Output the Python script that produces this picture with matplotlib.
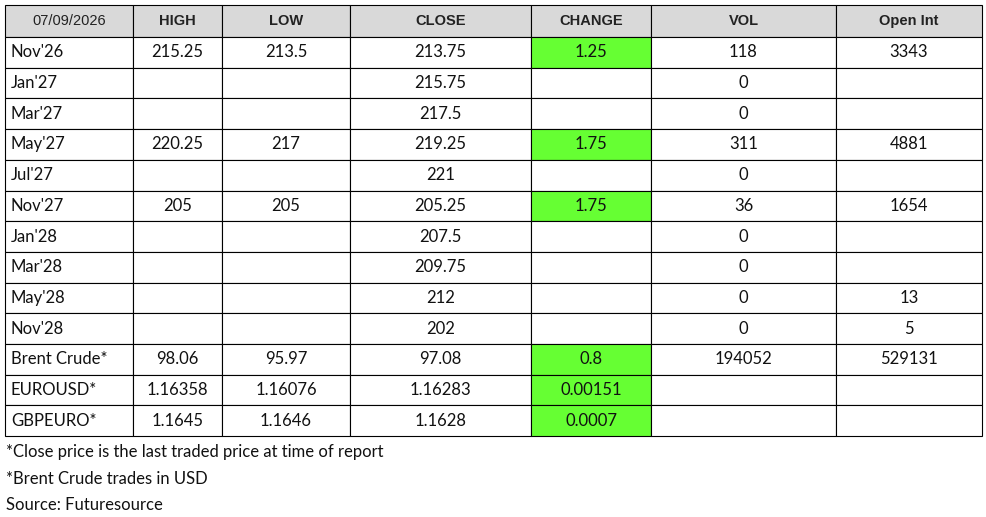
import matplotlib.pyplot as plt
from matplotlib.patches import Rectangle

date_label = "07/09/2026"
columns = ["HIGH", "LOW", "CLOSE", "CHANGE", "VOL", "Open Int"]
contracts = ["Nov'26", "Jan'27", "Mar'27", "May'27", "Jul'27", "Nov'27", "Jan'28",
             "Mar'28", "May'28", "Nov'28", "Brent Crude*", "EUROUSD*", "GBPEURO*"]
high = ["215.25", "", "", "220.25", "", "205", "", "", "", "", "98.06", "1.16358", "1.1645"]
low = ["213.5", "", "", "217", "", "205", "", "", "", "", "95.97", "1.16076", "1.1646"]
close = ["213.75", "215.75", "217.5", "219.25", "221", "205.25", "207.5", "209.75",
         "212", "202", "97.08", "1.16283", "1.1628"]
change = ["1.25", "", "", "1.75", "", "1.75", "", "", "", "", "0.8", "0.00151", "0.0007"]
vol = ["118", "0", "0", "311", "0", "36", "0", "0", "0", "0", "194052", "", ""]
open_int = ["3343", "", "", "4881", "", "1654", "", "", "13", "5", "529131", "", ""]
notes = ["*Close price is the last traded price at time of report",
         "*Brent Crude trades in USD",
         "Source: Futuresource"]

edges = [5, 133, 222, 350, 531, 651, 836, 982]
top, head_h, row_h = 5, 32, 30.7
body_font = "Lato"
head_font = "Liberation Sans"

fig = plt.figure(figsize=(9.86, 5.17), dpi=100)
ax = fig.add_axes([0, 0, 1, 1])
ax.set_xlim(0, 986)
ax.set_ylim(517, 0)
ax.axis("off")

# header
for i in range(7):
    x0, x1 = edges[i], edges[i + 1]
    ax.add_patch(Rectangle((x0, top), x1 - x0, head_h, facecolor="#d9d9d9",
                           edgecolor="black", lw=0.8))
    if i == 0:
        ax.text((x0 + x1) / 2, top + head_h / 2, date_label, ha="center", va="center",
                fontsize=10.5, family=head_font, color="#222222")
    else:
        ax.text((x0 + x1) / 2, top + head_h / 2, columns[i - 1], ha="center", va="center",
                fontsize=10.5, family=head_font, weight="bold", color="#222222")

table = list(zip(contracts, high, low, close, change, vol, open_int))
for r, row in enumerate(table):
    y0 = top + head_h + r * row_h
    for i in range(7):
        x0, x1 = edges[i], edges[i + 1]
        fc = "#66ff33" if (i == 4 and row[i]) else "white"
        ax.add_patch(Rectangle((x0, y0), x1 - x0, row_h, facecolor=fc,
                               edgecolor="black", lw=0.8))
        if i == 0:
            ax.text(x0 + 6, y0 + row_h / 2, row[i], ha="left", va="center",
                    fontsize=12, family=body_font, color="#111111")
        else:
            ax.text((x0 + x1) / 2, y0 + row_h / 2, row[i], ha="center", va="center",
                    fontsize=12, family=body_font, color="#111111")

for k, note in enumerate(notes):
    ax.text(6, 452 + k * 26.5, note, ha="left", va="center", fontsize=12,
            family=body_font, color="#111111")

fig.savefig("out.png", dpi=100)
